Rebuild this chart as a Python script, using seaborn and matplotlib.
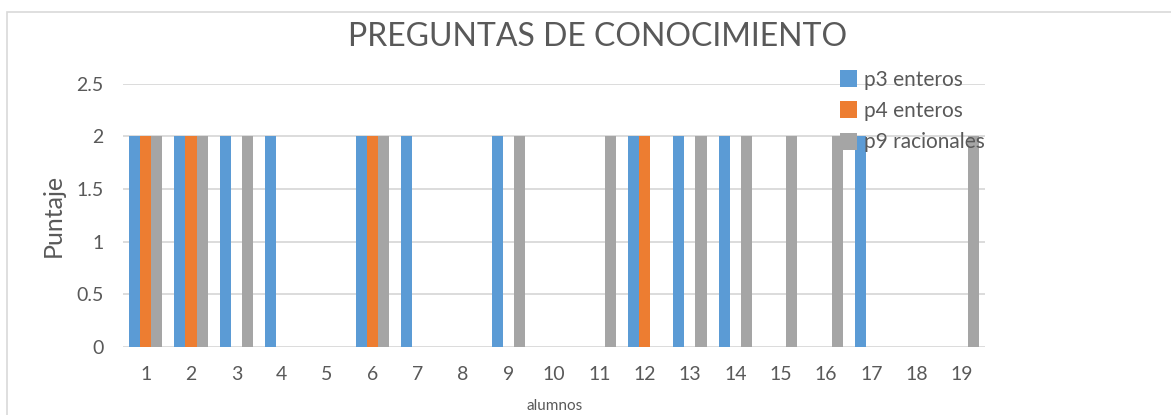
import pandas as pd
import seaborn as sns
import matplotlib.pyplot as plt
from matplotlib.patches import Rectangle

alumnos = [str(i) for i in range(1, 20)]
p3_enteros = [2, 2, 2, 2, 0, 2, 2, 0, 2, 0, 0, 2, 2, 2, 0, 0, 2, 0, 0]
p4_enteros = [2, 2, 0, 0, 0, 2, 0, 0, 0, 0, 0, 2, 0, 0, 0, 0, 0, 0, 0]
p9_racionales = [2, 2, 2, 0, 0, 2, 0, 0, 2, 0, 2, 0, 2, 2, 2, 2, 0, 0, 2]
series = ["p3 enteros", "p4 enteros", "p9 racionales"]
colores = ["#5B9BD5", "#ED7D31", "#A5A5A5"]

df = pd.DataFrame({"alumno": alumnos,
                   "p3 enteros": p3_enteros,
                   "p4 enteros": p4_enteros,
                   "p9 racionales": p9_racionales})
datos = df.melt(id_vars="alumno", var_name="Pregunta", value_name="Puntaje")

sns.set_style("white")
plt.rcParams["font.family"] = ["Lato", "DejaVu Sans"]
gris = "#595959"

fig = plt.figure(figsize=(11.71, 4.15), dpi=100)
ax = fig.add_axes([0.105, 0.164, 0.736, 0.634])
sns.barplot(data=datos, x="alumno", y="Puntaje", hue="Pregunta",
            hue_order=series, palette=colores, width=0.73,
            saturation=1, linewidth=0, ax=ax, legend=True)

ax.set_ylim(0, 2.5)
ax.set_xlim(-0.5, 18.5)
ax.set_yticks([0, 0.5, 1, 1.5, 2, 2.5])
ax.set_yticklabels(["0", "0.5", "1", "1.5", "2", "2.5"])
ax.yaxis.grid(True, color="#D9D9D9", linewidth=1.3)
ax.set_axisbelow(True)
for s in ["top", "right", "left", "bottom"]:
    ax.spines[s].set_visible(False)
ax.tick_params(axis="x", length=0, labelsize=14, labelcolor=gris, pad=14)
ax.tick_params(axis="y", length=0, labelsize=14, labelcolor=gris, pad=14)
ax.set_xlabel("")
ax.set_ylabel("Puntaje", fontsize=18, color=gris, labelpad=8)
fig.text(0.51, 0.91, "PREGUNTAS DE CONOCIMIENTO", fontsize=23, color=gris,
         ha="center", va="center")
fig.text(0.474, 0.005, "alumnos", fontsize=11, color=gris,
         ha="center", va="bottom")

ax.legend(loc="upper left", bbox_to_anchor=(0.822, 1.086), frameon=False,
          fontsize=15, labelcolor=gris, handlelength=0.85, handleheight=0.85,
          handletextpad=0.3, labelspacing=0.55, borderaxespad=0)

fig.patches.append(Rectangle((7 / 1171, -0.1), 1.1, 1 - 12 / 415 + 0.1,
                             transform=fig.transFigure, fill=False,
                             edgecolor="#D9D9D9", linewidth=1.2))

fig.savefig("out.png", dpi=100)
